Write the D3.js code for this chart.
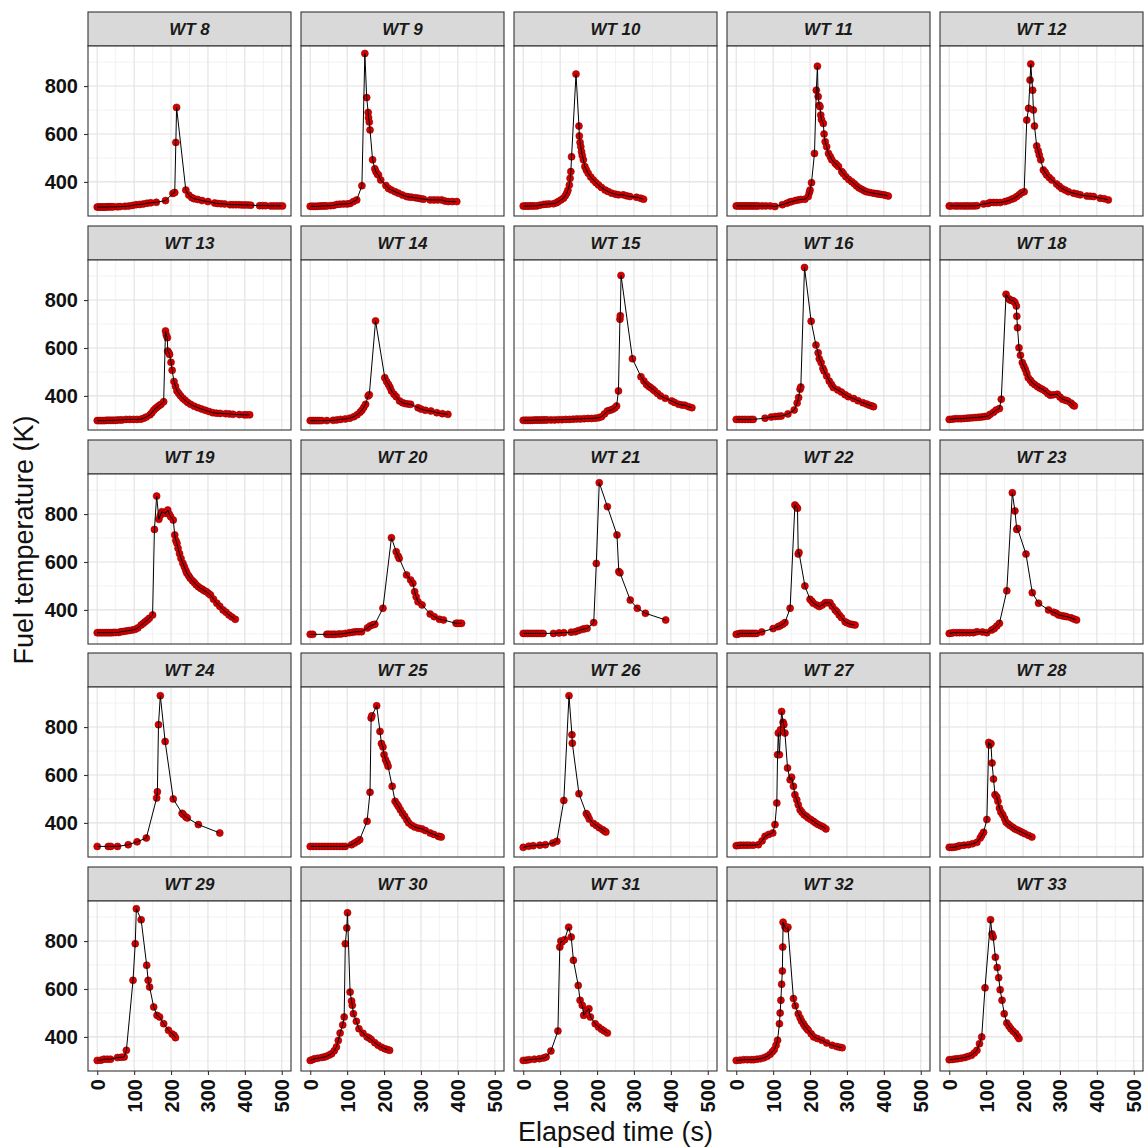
<!DOCTYPE html>
<html>
<head>
<meta charset="utf-8">
<script src="https://cdn.jsdelivr.net/npm/d3@7"></script>
<style>
  body { margin: 0; background: #fff; }
  svg { display: block; font-family: "Liberation Sans", Arial, sans-serif; }
</style>
</head>
<body>
<svg id="chart" width="1147" height="1148"></svg>
<script>
// Fuel temperature traces, one [elapsed time (s), temperature (K)] array per test
const tests = ["WT 8","WT 9","WT 10","WT 11","WT 12","WT 13","WT 14","WT 15","WT 16","WT 18",
               "WT 19","WT 20","WT 21","WT 22","WT 23","WT 24","WT 25","WT 26","WT 27","WT 28",
               "WT 29","WT 30","WT 31","WT 32","WT 33"];

const wt8 = [[0,295],[4,295],[8,295],[12,295],[16,295],[20,295],[24,295],[28,296],[32,296],[36,296],[40,296],[44,296],[55,296],[62,297],[75,298],[85,299],[95,302],[105,305],[115,306],[125,308],[135,311],[145,313],[160,315],[185,322],[205,352],[210,356],[213,565],[215,711],[240,366],[248,345],[256,335],[262,330],[272,327],[284,322],[300,318],[318,312],[326,310],[335,309],[345,308],[360,305],[368,305],[376,305],[384,305],[392,304],[400,304],[408,304],[416,303],[440,301],[448,301],[456,301],[470,300],[478,300],[486,300],[494,300],[502,300]];
const wt9 = [[0,298],[5,298],[10,298],[15,298],[20,298],[25,299],[30,299],[35,300],[40,300],[45,300],[55,301],[63,302],[72,306],[80,307],[90,308],[100,308],[108,310],[117,318],[126,325],[140,384],[148,936],[153,752],[157,690],[158,668],[160,650],[162,617],[169,492],[175,455],[178,443],[182,432],[185,429],[191,408],[205,385],[212,373],[220,366],[230,359],[239,353],[250,345],[261,339],[268,337],[275,336],[285,334],[293,332],[300,330],[307,328],[325,325],[335,325],[345,325],[356,325],[365,320],[374,318],[385,318],[397,318]];
const wt10 = [[0,299],[5,299],[10,299],[15,299],[20,300],[25,300],[30,300],[37,300],[45,303],[55,306],[62,307],[70,308],[82,309],[90,313],[95,318],[102,325],[109,332],[114,342],[118,353],[121,365],[125,387],[127,415],[129,443],[131,505],[143,850],[151,633],[152,592],[154,565],[156,547],[158,526],[160,510],[163,492],[167,464],[171,450],[176,436],[183,420],[190,408],[197,397],[204,387],[212,377],[222,366],[230,360],[240,353],[250,349],[258,346],[271,346],[280,342],[289,339],[307,336],[318,332],[326,328]];
const wt11 = [[0,300],[5,300],[10,300],[15,300],[20,300],[25,300],[30,300],[35,300],[40,300],[45,300],[50,300],[55,300],[60,300],[70,300],[80,300],[92,300],[105,297],[125,305],[137,311],[145,316],[150,318],[160,322],[168,325],[175,327],[186,328],[195,339],[198,355],[200,366],[204,397],[212,519],[217,783],[220,883],[222,756],[225,720],[227,714],[229,679],[231,660],[236,644],[238,600],[241,568],[245,547],[250,519],[255,505],[259,492],[268,478],[272,472],[277,464],[286,443],[290,435],[297,422],[305,410],[313,401],[320,392],[326,383],[333,375],[340,369],[347,363],[353,359],[362,356],[372,353],[380,351],[385,350],[392,348],[399,346],[405,344],[412,341]];
const wt12 = [[0,300],[5,300],[15,300],[22,300],[30,300],[38,300],[45,300],[52,300],[60,300],[68,300],[75,301],[93,308],[105,310],[111,314],[120,314],[128,314],[138,314],[151,318],[160,322],[169,328],[176,332],[183,339],[190,347],[196,355],[203,359],[210,658],[215,707],[219,825],[221,892],[226,783],[228,700],[231,633],[237,550],[241,530],[244,512],[248,492],[255,450],[260,440],[264,429],[271,418],[278,408],[291,391],[298,382],[305,373],[314,366],[323,359],[337,353],[346,350],[355,346],[373,341],[382,340],[391,339],[409,332],[420,330],[431,325]];
const wt13 = [[0,297],[5,297],[10,297],[15,297],[20,297],[25,298],[30,298],[35,298],[40,298],[45,298],[50,298],[55,299],[62,300],[68,300],[78,302],[88,302],[98,302],[108,302],[118,303],[126,307],[133,312],[143,321],[148,330],[153,340],[158,348],[163,354],[168,360],[173,365],[180,376],[185,671],[187,655],[190,643],[191,587],[194,580],[196,573],[200,540],[203,507],[208,460],[212,440],[216,421],[221,410],[226,400],[232,390],[238,382],[245,373],[253,365],[263,357],[273,351],[283,345],[293,340],[303,335],[313,330],[323,328],[333,327],[348,326],[358,325],[368,323],[385,322],[398,321],[405,321],[413,321]];
const wt14 = [[0,297],[5,297],[10,297],[15,297],[20,297],[25,297],[31,297],[45,297],[62,298],[72,300],[82,302],[95,304],[107,307],[118,313],[127,321],[135,332],[140,340],[145,352],[150,365],[157,400],[160,405],[177,713],[202,476],[207,460],[212,448],[216,436],[220,421],[227,407],[233,397],[242,379],[250,372],[257,368],[265,366],[272,365],[292,351],[300,345],[312,340],[327,337],[343,330],[358,326],[373,323]];
const wt15 = [[0,298],[5,298],[10,298],[15,298],[20,298],[25,298],[30,299],[35,299],[40,299],[45,299],[50,299],[55,300],[60,300],[65,300],[75,300],[85,300],[95,301],[105,301],[115,302],[125,302],[135,303],[145,304],[155,304],[165,305],[175,306],[185,306],[195,307],[204,309],[212,313],[220,325],[228,337],[235,340],[242,344],[248,350],[253,358],[258,421],[262,720],[263,735],[265,903],[296,555],[319,480],[327,462],[334,448],[340,440],[345,435],[351,428],[356,421],[364,410],[372,400],[385,390],[402,379],[410,373],[421,365],[430,362],[438,361],[448,355],[457,351]];
const wt16 = [[0,302],[8,302],[16,302],[24,302],[32,302],[40,302],[46,302],[78,307],[95,312],[106,314],[115,315],[122,316],[140,325],[157,341],[165,370],[169,393],[173,428],[175,437],[185,936],[203,712],[216,612],[222,580],[225,555],[230,539],[235,515],[238,504],[245,483],[252,462],[258,448],[263,435],[275,425],[285,416],[295,405],[304,397],[318,389],[330,380],[343,372],[353,366],[361,361],[368,358],[372,355]];
const wt18 = [[0,302],[8,303],[16,305],[24,305],[32,305],[40,306],[48,307],[56,308],[64,309],[72,310],[80,311],[88,312],[96,314],[105,316],[111,323],[120,332],[127,341],[136,347],[141,386],[154,824],[162,805],[165,800],[170,798],[174,796],[178,790],[182,775],[183,733],[185,685],[189,601],[193,570],[198,539],[202,525],[206,511],[210,495],[214,476],[220,465],[225,455],[232,447],[239,439],[245,433],[252,428],[260,420],[267,410],[274,403],[282,405],[293,407],[300,395],[307,386],[315,382],[321,379],[330,370],[335,362],[339,358]];
const wt19 = [[0,305],[5,305],[10,305],[15,305],[20,305],[25,305],[30,305],[35,305],[40,305],[45,306],[50,306],[58,306],[64,309],[70,310],[78,312],[86,314],[95,316],[103,319],[110,325],[119,337],[125,344],[130,351],[136,358],[141,365],[150,379],[155,736],[161,875],[167,778],[171,795],[175,810],[181,805],[186,803],[191,817],[195,800],[199,789],[206,775],[210,713],[213,690],[216,678],[219,657],[223,635],[227,615],[232,595],[236,580],[240,565],[243,553],[248,542],[252,532],[258,522],[263,514],[268,505],[274,497],[280,490],[285,486],[290,480],[296,476],[302,468],[307,462],[315,445],[324,428],[332,415],[341,400],[349,390],[357,379],[365,370],[374,361]];
const wt20 = [[0,298],[7,298],[45,298],[50,298],[56,298],[62,298],[67,298],[76,299],[84,300],[95,302],[106,305],[115,307],[123,309],[131,309],[139,309],[155,325],[162,333],[170,338],[175,340],[197,407],[220,701],[233,643],[238,625],[241,615],[261,546],[272,525],[278,511],[283,476],[287,455],[292,434],[303,421],[325,383],[336,372],[350,361],[361,358],[395,344],[399,344],[405,344],[410,344]];
const wt21 = [[0,302],[6,302],[12,302],[18,302],[24,302],[30,302],[36,302],[42,302],[48,302],[54,302],[82,302],[97,304],[110,305],[130,307],[141,309],[150,314],[160,319],[166,321],[173,323],[191,347],[198,594],[206,931],[228,831],[254,713],[259,560],[262,555],[290,441],[309,407],[331,386],[386,358]];
const wt22 = [[0,298],[5,299],[10,302],[15,302],[20,302],[25,302],[30,302],[35,302],[40,302],[45,302],[50,302],[55,302],[69,308],[100,322],[113,330],[119,334],[126,340],[132,347],[146,407],[159,838],[163,830],[166,824],[168,633],[170,640],[186,500],[200,444],[205,436],[209,428],[218,420],[225,414],[233,420],[241,430],[247,430],[254,430],[260,415],[268,400],[273,392],[279,379],[285,368],[295,351],[300,346],[308,341],[315,339],[322,337]];
const wt23 = [[0,302],[5,303],[11,305],[20,305],[28,305],[36,305],[45,305],[55,305],[65,305],[75,309],[90,308],[102,305],[115,316],[122,322],[129,333],[136,344],[156,480],[171,889],[178,813],[183,736],[185,740],[208,633],[225,472],[242,428],[269,400],[283,390],[290,386],[296,379],[305,376],[312,374],[318,372],[330,367],[338,362],[345,358]];
const wt24 = [[0,302],[30,302],[37,302],[55,302],[84,309],[108,321],[133,337],[161,504],[163,530],[166,810],[171,931],[184,740],[206,500],[230,440],[233,435],[240,425],[244,421],[274,393],[332,358]];
const wt25 = [[0,302],[8,302],[16,302],[24,302],[32,302],[40,302],[48,302],[56,302],[64,302],[72,302],[80,302],[88,302],[95,302],[112,309],[120,316],[128,323],[134,330],[154,407],[162,528],[165,838],[167,847],[180,889],[189,782],[193,731],[197,717],[200,685],[204,664],[208,650],[211,636],[222,553],[230,490],[235,478],[239,469],[244,455],[250,440],[256,428],[262,412],[267,400],[275,390],[283,383],[293,378],[303,375],[312,368],[325,358],[335,352],[347,344],[351,343],[355,341]];
const wt26 = [[0,298],[15,303],[27,305],[45,307],[60,309],[80,316],[91,323],[110,494],[124,931],[132,768],[133,733],[151,522],[171,439],[175,430],[179,416],[190,398],[198,389],[206,380],[215,372],[220,366],[224,362]];
const wt27 = [[0,305],[6,306],[12,307],[20,307],[28,307],[36,307],[46,307],[60,309],[70,325],[78,344],[88,352],[99,358],[105,393],[110,483],[112,685],[114,775],[117,685],[120,789],[123,865],[127,820],[129,810],[132,775],[139,629],[146,580],[150,591],[155,553],[159,518],[164,497],[168,476],[173,455],[178,445],[184,434],[190,428],[195,421],[202,414],[209,407],[215,400],[222,393],[229,388],[236,383],[243,375]];
const wt28 = [[0,298],[6,298],[11,298],[18,300],[24,303],[29,305],[40,307],[52,309],[63,313],[75,319],[84,337],[88,348],[93,361],[102,414],[107,736],[109,725],[113,731],[116,650],[120,583],[124,518],[129,508],[132,490],[136,462],[140,445],[145,434],[150,418],[154,403],[160,395],[165,389],[172,382],[178,375],[185,370],[192,365],[198,360],[205,355],[215,348],[224,341]];
const wt29 = [[0,302],[10,303],[18,307],[27,307],[36,307],[55,314],[65,315],[73,316],[79,344],[97,636],[103,789],[106,935],[119,889],[134,699],[138,636],[142,608],[153,525],[162,490],[169,483],[180,455],[193,428],[203,412],[208,407],[212,397]];
const wt30 = [[0,302],[6,305],[12,309],[20,311],[31,314],[38,316],[44,319],[52,325],[58,330],[65,342],[71,358],[76,385],[81,416],[88,450],[92,483],[95,789],[99,855],[101,918],[108,587],[112,550],[114,532],[117,497],[125,465],[132,434],[143,415],[154,400],[160,395],[165,389],[175,376],[184,365],[193,357],[202,351],[209,347],[215,344]];
const wt31 = [[0,302],[8,303],[16,305],[30,307],[44,309],[55,312],[62,316],[75,341],[94,425],[99,775],[102,800],[105,796],[112,806],[123,858],[130,817],[136,720],[149,615],[154,553],[160,532],[164,490],[172,510],[178,518],[182,483],[195,455],[204,441],[212,432],[219,425],[228,416]];
const wt32 = [[0,302],[10,303],[20,305],[30,305],[40,305],[47,305],[56,307],[66,309],[75,313],[84,319],[92,328],[98,338],[103,347],[108,365],[112,386],[117,455],[119,500],[121,553],[123,620],[125,675],[126,775],[127,879],[132,860],[136,851],[140,858],[155,560],[160,530],[168,497],[173,480],[177,466],[182,455],[186,444],[191,435],[195,428],[203,413],[210,400],[220,393],[232,386],[245,375],[260,365],[272,360],[280,357],[287,355]];
const wt33 = [[0,305],[8,306],[16,308],[23,309],[32,311],[42,314],[50,318],[60,323],[68,333],[75,344],[82,372],[88,400],[97,605],[112,889],[116,830],[119,817],[125,733],[130,690],[134,647],[138,597],[143,553],[149,497],[156,458],[162,445],[167,434],[173,424],[180,414],[185,403],[189,393]];

const traces = [wt8, wt9, wt10, wt11, wt12, wt13, wt14, wt15, wt16, wt18,
                wt19, wt20, wt21, wt22, wt23, wt24, wt25, wt26, wt27, wt28,
                wt29, wt30, wt31, wt32, wt33];

const xTicks = [0, 100, 200, 300, 400, 500];
const xMinor = [50, 150, 250, 350, 450];
const yTicks = [400, 600, 800];
const yMinor = [300, 500, 700, 900];
const xLimits = [0, 500];
const yLimits = [290, 935];

// facet layout
const nCols = 5;
const gridLeft = 88, gridTop = 12;
const panelW = 203, plotH = 170, stripH = 34;
const gapX = 10, rowPitch = 213.75;

const expand = (lim) => { const p = (lim[1] - lim[0]) * 0.05; return [lim[0] - p, lim[1] + p]; };
const x = d3.scaleLinear().domain(expand(xLimits)).range([0, panelW]);
const y = d3.scaleLinear().domain(expand(yLimits)).range([plotH, 0]);

const svg = d3.select("#chart");
svg.append("rect").attr("width", 1147).attr("height", 1148).attr("fill", "#fff");

const line = d3.line().x(d => x(d[0])).y(d => y(d[1]));

tests.forEach((name, i) => {
  const col = i % nCols, row = Math.floor(i / nCols);
  const gx = gridLeft + col * (panelW + gapX);
  const gy = Math.round(gridTop + row * rowPitch);
  const g = svg.append("g").attr("transform", `translate(${gx},${gy})`);

  // strip
  g.append("rect").attr("x", 0).attr("y", 0).attr("width", panelW).attr("height", stripH)
    .attr("fill", "#d9d9d9").attr("stroke", "#333").attr("stroke-width", 1.1);
  g.append("text").attr("x", panelW / 2).attr("y", stripH / 2).attr("dy", "0.36em")
    .attr("text-anchor", "middle").attr("font-size", 17).attr("font-weight", "bold")
    .attr("font-style", "italic").attr("fill", "#1a1a1a").text(name);

  const p = g.append("g").attr("transform", `translate(0,${stripH})`);
  p.append("rect").attr("width", panelW).attr("height", plotH).attr("fill", "#fff");

  // grid
  p.selectAll(".gxm").data(xMinor).join("line")
    .attr("x1", d => x(d)).attr("x2", d => x(d)).attr("y1", 0).attr("y2", plotH)
    .attr("stroke", "#ebebeb").attr("stroke-width", 0.6);
  p.selectAll(".gym").data(yMinor).join("line")
    .attr("y1", d => y(d)).attr("y2", d => y(d)).attr("x1", 0).attr("x2", panelW)
    .attr("stroke", "#ebebeb").attr("stroke-width", 0.6);
  p.selectAll(".gx").data(xTicks).join("line")
    .attr("x1", d => x(d)).attr("x2", d => x(d)).attr("y1", 0).attr("y2", plotH)
    .attr("stroke", "#e1e1e1").attr("stroke-width", 1.1);
  p.selectAll(".gy").data(yTicks).join("line")
    .attr("y1", d => y(d)).attr("y2", d => y(d)).attr("x1", 0).attr("x2", panelW)
    .attr("stroke", "#e1e1e1").attr("stroke-width", 1.1);

  const data = traces[i];
  // points, then the connecting line
  p.selectAll("circle").data(data).join("circle")
    .attr("cx", d => x(d[0])).attr("cy", d => y(d[1])).attr("r", 3.5)
    .attr("fill", "#d40000").attr("stroke", "#930000").attr("stroke-width", 0.6);
  p.append("path").datum(data).attr("d", line)
    .attr("fill", "none").attr("stroke", "#000").attr("stroke-width", 1);

  // panel border
  p.append("rect").attr("width", panelW).attr("height", plotH)
    .attr("fill", "none").attr("stroke", "#333").attr("stroke-width", 1.1);

  if (col === 0) {
    const ax = p.append("g").call(d3.axisLeft(y).tickValues(yTicks).tickSize(4).tickPadding(6));
    ax.select(".domain").remove();
    ax.selectAll(".tick line").attr("stroke", "#333").attr("stroke-width", 1.1);
    ax.selectAll(".tick text").attr("font-size", 20).attr("font-weight", "bold")
      .attr("fill", "#111").attr("font-family", "Liberation Sans, Arial, sans-serif");
  }
  if (row === 4) {
    const ax = p.append("g").attr("transform", `translate(0,${plotH})`)
      .call(d3.axisBottom(x).tickValues(xTicks).tickSize(4));
    ax.select(".domain").remove();
    ax.selectAll(".tick line").attr("stroke", "#333").attr("stroke-width", 1.1);
    ax.selectAll(".tick text")
      .attr("font-size", 20).attr("font-weight", "bold").attr("fill", "#111")
      .attr("font-family", "Liberation Sans, Arial, sans-serif")
      .attr("text-anchor", "end").attr("transform", "rotate(-90)")
      .attr("x", -8).attr("y", 0).attr("dy", "0.35em");
  }
});

// axis titles
const panelsRight = gridLeft + nCols * panelW + (nCols - 1) * gapX;
svg.append("text").attr("x", (gridLeft + panelsRight) / 2).attr("y", 1141)
  .attr("text-anchor", "middle").attr("font-size", 27).attr("fill", "#111")
  .text("Elapsed time (s)");
svg.append("text").attr("transform", `translate(33,${(gridTop + 1068) / 2}) rotate(-90)`)
  .attr("text-anchor", "middle").attr("font-size", 27).attr("fill", "#111")
  .text("Fuel temperature (K)");
</script>
</body>
</html>
